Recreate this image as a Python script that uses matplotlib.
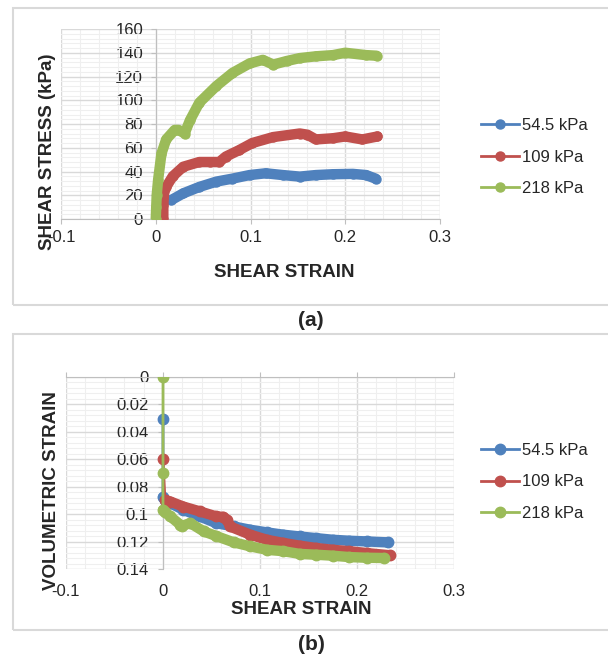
import matplotlib
matplotlib.use("Agg")
import matplotlib.pyplot as plt
from matplotlib.patches import Rectangle
from matplotlib.ticker import MultipleLocator, FixedLocator, FixedFormatter

plt.rcParams['font.family'] = ['Liberation Sans', 'DejaVu Sans']

# ---------------- data ----------------
series_labels = ["54.5 kPa", "109 kPa", "218 kPa"]
series_colors = ["#4f81bd", "#c0504d", "#9bbb59"]

# (a) shear stress vs shear strain
a_blue_x = [0.0165, 0.029, 0.046, 0.064, 0.081, 0.099, 0.116, 0.134, 0.152, 0.169, 0.187, 0.208, 0.222, 0.232]
a_blue_y = [16, 21.6, 27, 31.5, 34, 37, 38.5, 37, 35.7, 37, 37.7, 38, 37, 34]
a_red_x = [0.008, 0.008, 0.009, 0.011, 0.018, 0.029, 0.046, 0.057, 0.067, 0.074, 0.088, 0.102, 0.124,
           0.152, 0.16, 0.169, 0.187, 0.2, 0.218, 0.234]
a_red_y = [0, 12, 24, 27, 36, 44, 48, 48, 48, 52.6, 58, 64, 69, 72, 71, 67, 68, 69.5, 67, 69.5]
a_green_x = [0, 0.0005, 0.001, 0.0025, 0.006, 0.011, 0.02, 0.024, 0.0305, 0.036, 0.046, 0.064, 0.081,
             0.099, 0.113, 0.124, 0.138, 0.152, 0.169, 0.187, 0.2, 0.222, 0.233]
a_green_y = [0, 10, 20, 33, 55, 67, 75, 75, 72, 83, 98, 112, 123, 131, 134, 130, 133, 135.5, 137, 138,
             140, 138, 137.5]

# (b) volumetric strain vs shear strain
b_blue_x = [0, 0, 0.002, 0.0075, 0.021, 0.038, 0.055, 0.073, 0.09, 0.107, 0.124, 0.141, 0.158, 0.175,
            0.192, 0.21, 0.232]
b_blue_y = [0.0307, 0.0877, 0.090, 0.092, 0.0969, 0.1017, 0.1066, 0.109, 0.1114, 0.1133, 0.115, 0.1163,
            0.1175, 0.1187, 0.1194, 0.1199, 0.1206]
b_red_x = [0, 0.002, 0.0075, 0.021, 0.038, 0.055, 0.062, 0.066, 0.069, 0.09, 0.107, 0.124, 0.141, 0.158,
           0.175, 0.192, 0.21, 0.234]
b_red_y = [0.060, 0.0896, 0.0908, 0.0945, 0.098, 0.1017, 0.102, 0.104, 0.109, 0.115, 0.1187, 0.121,
           0.123, 0.1247, 0.126, 0.127, 0.1284, 0.130]
b_green_x = [0, 0, 0, 0.002, 0.0075, 0.018, 0.020, 0.028, 0.042, 0.055, 0.073, 0.09, 0.107, 0.124,
             0.141, 0.158, 0.175, 0.192, 0.21, 0.228]
b_green_y = [0, 0.070, 0.097, 0.0985, 0.1017, 0.1078, 0.1085, 0.1065, 0.1126, 0.116, 0.1206, 0.1235,
             0.126, 0.127, 0.129, 0.1296, 0.1303, 0.1313, 0.1318, 0.132]
b_dense_start = [1, 1, 2]   # index where densely sampled part begins

x_ticks = [-0.1, 0, 0.1, 0.2, 0.3]
x_ticklabels = ["-0.1", "0", "0.1", "0.2", "0.3"]
a_yticks = [0, 20, 40, 60, 80, 100, 120, 140, 160]
b_yticks = [0, 0.02, 0.04, 0.06, 0.08, 0.1, 0.12, 0.14]
b_yticklabels = ["0", "0.02", "0.04", "0.06", "0.08", "0.1", "0.12", "0.14"]

# ---------------- figure ----------------
W, H = 608, 658
fig = plt.figure(figsize=(W / 100, H / 100), dpi=100)


def fx(px):
    return px / W


def fy(py):
    return 1 - py / H


# panel boxes
for top, bot in [(8, 305), (334, 630)]:
    fig.add_artist(Rectangle((fx(13), fy(bot)), fx(620 - 13), (bot - top) / H, transform=fig.transFigure,
                             fill=False, edgecolor="#d9d9d9", lw=1.5))

TICK_FS = 12
LAB_FS = 13.5
AXC = "#bfbfbf"
TXT = "#262626"
THICK = 7.5


def base_style(ax, yminor):
    for s in ax.spines.values():
        s.set_visible(False)
    ax.set_xlim(-0.1, 0.3)
    ax.xaxis.set_major_locator(FixedLocator(x_ticks))
    ax.xaxis.set_major_formatter(FixedFormatter(x_ticklabels))
    ax.xaxis.set_minor_locator(MultipleLocator(0.02))
    ax.yaxis.set_minor_locator(MultipleLocator(yminor))
    ax.grid(which="major", color="#d9d9d9", lw=1.0)
    ax.grid(which="minor", color="#efefef", lw=0.8)
    ax.set_axisbelow(True)
    ax.tick_params(which="minor", length=0)
    ax.spines["left"].set_visible(True)
    ax.spines["left"].set_position(("data", 0))
    ax.spines["left"].set_color(AXC)
    ax.spines["left"].set_zorder(1.5)


# ----- panel (a) -----
axa = fig.add_axes([fx(61), fy(219), fx(440 - 61), (219 - 29) / H])
base_style(axa, 4)
axa.set_ylim(0, 160)
axa.yaxis.set_major_locator(FixedLocator(a_yticks))
axa.spines["bottom"].set_visible(True)
axa.spines["bottom"].set_color(AXC)
axa.tick_params(axis="y", which="major", direction="out", length=3.6, color=AXC, pad=5.5,
                labelsize=TICK_FS, labelcolor=TXT)
axa.tick_params(axis="x", which="major", direction="out", length=3.6, color=AXC, pad=4.6,
                labelsize=TICK_FS, labelcolor=TXT)

a_series = [(a_blue_x, a_blue_y), (a_red_x, a_red_y), (a_green_x, a_green_y)]
for (xs, ys), c, lab in zip(a_series, series_colors, series_labels):
    axa.plot(xs, ys, "-", color=c, lw=THICK, solid_capstyle="round", solid_joinstyle="round", zorder=3)
    axa.plot(xs, ys, "-o", color=c, lw=2, ms=6.5, label=lab, zorder=3)

fig.text(fx(48), fy(152), "SHEAR STRESS (kPa)", rotation=90, ha="center", va="center",
         fontsize=LAB_FS, fontweight="bold", color=TXT)
fig.text(fx(284), fy(272), "SHEAR STRAIN", ha="center", va="center",
         fontsize=LAB_FS, fontweight="bold", color=TXT)
fig.text(fx(311), fy(321), "(a)", ha="center", va="center", fontsize=15, fontweight="bold",
         color=TXT)

axa.legend(loc="center left", bbox_to_anchor=(fx(481), fy(157)), bbox_transform=fig.transFigure,
           frameon=False, fontsize=TICK_FS, handlelength=2.3, handletextpad=0.15, labelspacing=1.0,
           borderpad=0, borderaxespad=0, labelcolor=TXT)

# ----- panel (b) -----
axb = fig.add_axes([fx(66), fy(569), fx(454 - 66), (569 - 377) / H])
base_style(axb, 0.004)
axb.set_ylim(0.14, 0)
axb.yaxis.set_major_locator(FixedLocator(b_yticks))
axb.yaxis.set_major_formatter(FixedFormatter(b_yticklabels))
axb.spines["top"].set_visible(True)
axb.spines["top"].set_color(AXC)
axb.tick_params(axis="y", which="major", direction="out", length=3.6, color=AXC, pad=6.8,
                labelsize=TICK_FS, labelcolor=TXT)
axb.tick_params(axis="x", which="major", direction="out", length=3.6, color=AXC, pad=7.0,
                top=True, bottom=False, labeltop=False, labelbottom=True,
                labelsize=TICK_FS, labelcolor=TXT)

b_series = [(b_blue_x, b_blue_y), (b_red_x, b_red_y), (b_green_x, b_green_y)]
for (xs, ys), c, lab, k in zip(b_series, series_colors, series_labels, b_dense_start):
    axb.plot(xs[k:], ys[k:], "-", color=c, lw=THICK, solid_capstyle="round", solid_joinstyle="round",
             zorder=3)
    axb.plot(xs, ys, "-o", color=c, lw=2, ms=7.5, label=lab, zorder=3)

fig.text(fx(52), fy(491), "VOLUMETRIC STRAIN", rotation=90, ha="center", va="center",
         fontsize=LAB_FS, fontweight="bold", color=TXT)
fig.text(fx(301), fy(609.5), "SHEAR STRAIN", ha="center", va="center",
         fontsize=LAB_FS, fontweight="bold", color=TXT)
fig.text(fx(311), fy(644), "(b)", ha="center", va="center", fontsize=15, fontweight="bold",
         color=TXT)

axb.legend(loc="center left", bbox_to_anchor=(fx(481), fy(482)), bbox_transform=fig.transFigure,
           frameon=False, fontsize=TICK_FS, handlelength=2.3, handletextpad=0.15, labelspacing=1.0,
           borderpad=0, borderaxespad=0, labelcolor=TXT)

fig.savefig("out.png", dpi=100)
